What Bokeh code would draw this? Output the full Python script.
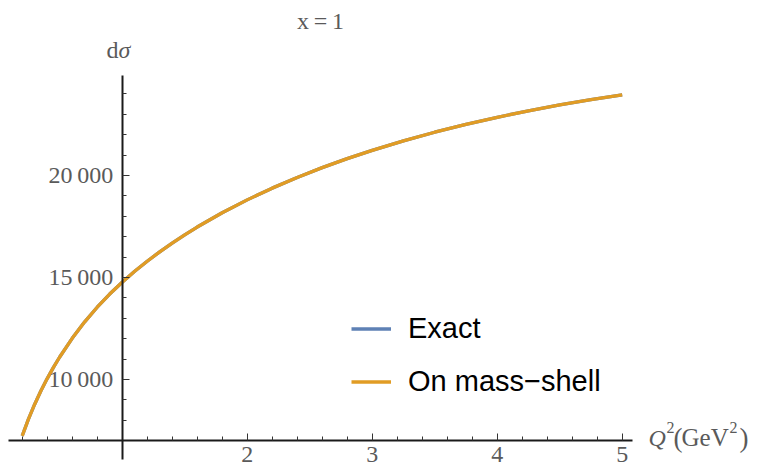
from bokeh.plotting import figure
from bokeh.models import Range1d, FixedTicker, Label, Legend, LegendItem
from bokeh.embed import file_html
from bokeh.resources import INLINE

# Differential cross section vs. photon virtuality Q^2 at x = 1
q2 = [0.2, 0.25, 0.3, 0.35, 0.4, 0.45, 0.5, 0.6, 0.7, 0.8, 0.9, 1.0,
      1.1, 1.2, 1.3, 1.4, 1.5, 1.6, 1.8, 2.0, 2.2, 2.4, 2.6, 2.8, 3.0,
      3.25, 3.5, 3.75, 4.0, 4.25, 4.5, 4.75, 5.0]
exact = [7240, 8061, 8790, 9447, 10045, 10594, 11103, 12019, 12825, 13544,
         14188, 14770, 15303, 15796, 16256, 16687, 17092, 17473, 18174,
         18805, 19380, 19905, 20384, 20825, 21233, 21700, 22121, 22504,
         22854, 23173, 23461, 23721, 23957]
on_shell = [7240, 8061, 8790, 9447, 10045, 10594, 11103, 12019, 12825, 13544,
            14188, 14770, 15303, 15796, 16256, 16687, 17092, 17473, 18174,
            18805, 19380, 19905, 20384, 20825, 21233, 21700, 22121, 22504,
            22854, 23173, 23461, 23721, 23957]

x_major = [2, 3, 4, 5]
x_minor = [0.2, 0.4, 0.6, 0.8, 1.2, 1.4, 1.6, 1.8, 2.2, 2.4, 2.6, 2.8,
           3.2, 3.4, 3.6, 3.8, 4.2, 4.4, 4.6, 4.8]
y_major = [10000, 15000, 20000]
y_minor = [8000, 9000, 11000, 12000, 13000, 14000, 16000, 17000, 18000,
           19000, 21000, 22000, 23000, 24000]
y_labels = {10000: "10\u2009000", 15000: "15\u2009000", 20000: "20\u2009000"}

BLUE = "#5E81B5"
ORANGE = "#E19C24"
SERIF = "Liberation Serif"
GRAY = "#5a5a5a"

W, H = 759, 469
X0, X1 = 0.0264, 6.0984
Y0, Y1 = 5588, 28578

p = figure(width=W, height=H, x_range=Range1d(X0, X1), y_range=Range1d(Y0, Y1),
           output_backend="svg", toolbar_location=None,
           min_border=0, outline_line_color=None)
p.grid.visible = False


def sx(px):
    """canvas pixel column -> data x (frame fills the canvas)"""
    return X0 + (X1 - X0) * px / W


def sy(py):
    """canvas pixel row -> data y"""
    return Y1 - (Y1 - Y0) * py / H


# axes crossing at (1, 7000), ticks pointing into the plot
xa = p.xaxis[0]
xa.fixed_location = 7000
xa.bounds = (0.09, 5.08)
xa.ticker = FixedTicker(ticks=x_major, minor_ticks=x_minor)
ya = p.yaxis[0]
ya.fixed_location = 1
ya.bounds = (6080, 24900)
ya.ticker = FixedTicker(ticks=y_major, minor_ticks=y_minor)
ya.major_label_overrides = y_labels

for ax in (xa, ya):
    ax.axis_line_color = "#1a1a1a"
    ax.axis_line_width = 2
    ax.major_tick_in = 7
    ax.major_tick_out = 0
    ax.minor_tick_in = 4
    ax.minor_tick_out = 0
    ax.major_tick_line_color = "#333333"
    ax.minor_tick_line_color = "#333333"
    ax.major_tick_line_width = 1
    ax.minor_tick_line_width = 1
    ax.major_label_text_font = SERIF
    ax.major_label_text_font_size = "24px"
    ax.major_label_text_color = GRAY
xa.major_label_standoff = 6
ya.major_label_standoff = 9

r_exact = p.line(q2, exact, line_color=BLUE, line_width=3.3)
r_shell = p.line(q2, on_shell, line_color=ORANGE, line_width=3.3)

legend = Legend(items=[LegendItem(label="Exact", renderers=[r_exact]),
                       LegendItem(label="On mass\u2212shell", renderers=[r_shell])],
                location=(351, 71), orientation="vertical",
                label_text_font="Liberation Sans", label_text_font_size="29px",
                label_text_color="black", glyph_width=40, glyph_height=33,
                label_height=33, label_standoff=17, spacing=20, padding=0,
                margin=0, border_line_color=None, background_fill_alpha=0)
p.add_layout(legend)


def lab(px, py, text, size="24px", style="normal", align="left"):
    p.add_layout(Label(x=sx(px), y=sy(py), text=text, text_font=SERIF,
                       text_font_size=size, text_font_style=style,
                       text_color=GRAY, text_align=align,
                       text_baseline="alphabetic"))


# title and axis labels
lab(320, 20, "x\u2009=\u20091", align="center")
lab(106, 49, "d")
lab(118, 49, "\u03c3", style="italic")
lab(648, 437, "Q", style="italic")
lab(666, 427, "2", size="16px")
lab(673, 437, "(", size="27px")
lab(681, 437, "GeV", size="25px")
lab(729, 427, "2", size="16px")
lab(739, 437, ")", size="27px")

open("out.html", "w").write(file_html(p, INLINE))
